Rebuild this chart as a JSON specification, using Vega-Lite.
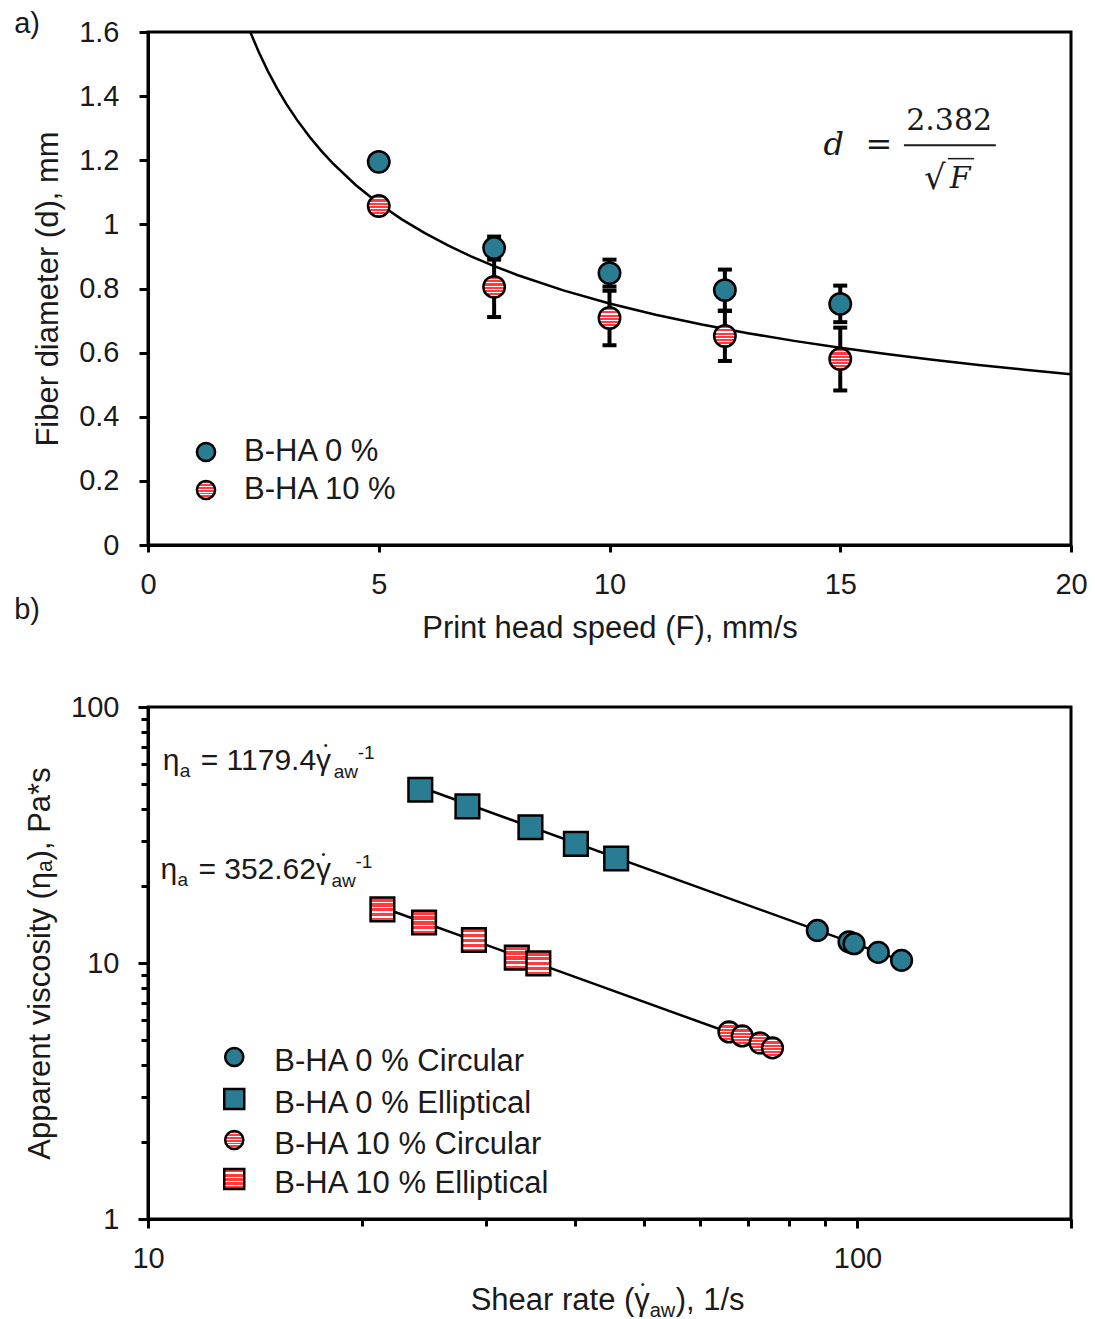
{
  "$schema": "https://vega.github.io/schema/vega-lite/v6.json",
  "background": "white",
  "padding": {"left": 12, "top": 8, "right": 0, "bottom": 0},
  "bounds": "flush",
  "spacing": 162,
  "resolve": {"scale": {"fill": "independent", "shape": "independent"}},
  "datasets": {
    "fit": [
      {"F": 2.216, "d": 1.6}, {"F": 2.4, "d": 1.5376}, {"F": 2.6, "d": 1.4772}, {"F": 2.8, "d": 1.4235},
      {"F": 3, "d": 1.3752}, {"F": 3.25, "d": 1.3213}, {"F": 3.5, "d": 1.2732}, {"F": 3.75, "d": 1.2301},
      {"F": 4, "d": 1.191}, {"F": 4.5, "d": 1.1229}, {"F": 5, "d": 1.0653}, {"F": 5.5, "d": 1.0157},
      {"F": 6, "d": 0.9725}, {"F": 6.5, "d": 0.9343}, {"F": 7, "d": 0.9003}, {"F": 7.5, "d": 0.8698},
      {"F": 8, "d": 0.8422}, {"F": 9, "d": 0.794}, {"F": 10, "d": 0.7532}, {"F": 11, "d": 0.7182},
      {"F": 12, "d": 0.6876}, {"F": 13, "d": 0.6606}, {"F": 14, "d": 0.6366}, {"F": 15, "d": 0.615},
      {"F": 16, "d": 0.5955}, {"F": 17, "d": 0.5777}, {"F": 18, "d": 0.5614}, {"F": 19, "d": 0.5465},
      {"F": 20, "d": 0.5326}
    ],
    "pts": [
      {"series": "B-HA 0 %", "F": 5, "d": 1.195, "lo": 1.18, "hi": 1.21},
      {"series": "B-HA 0 %", "F": 7.5, "d": 0.926, "lo": 0.89, "hi": 0.962},
      {"series": "B-HA 0 %", "F": 10, "d": 0.848, "lo": 0.806, "hi": 0.89},
      {"series": "B-HA 0 %", "F": 12.5, "d": 0.795, "lo": 0.731, "hi": 0.859},
      {"series": "B-HA 0 %", "F": 15, "d": 0.752, "lo": 0.695, "hi": 0.809},
      {"series": "B-HA 10 %", "F": 5, "d": 1.057, "lo": 1.042, "hi": 1.072},
      {"series": "B-HA 10 %", "F": 7.5, "d": 0.805, "lo": 0.711, "hi": 0.899},
      {"series": "B-HA 10 %", "F": 10, "d": 0.708, "lo": 0.623, "hi": 0.793},
      {"series": "B-HA 10 %", "F": 12.5, "d": 0.652, "lo": 0.574, "hi": 0.73},
      {"series": "B-HA 10 %", "F": 15, "d": 0.58, "lo": 0.482, "hi": 0.678}
    ],
    "visc": [
      {"series": "B-HA 0 % Elliptical", "x": 24.2, "y": 47.5},
      {"series": "B-HA 0 % Elliptical", "x": 28.2, "y": 40.9},
      {"series": "B-HA 0 % Elliptical", "x": 34.6, "y": 33.9},
      {"series": "B-HA 0 % Elliptical", "x": 40.1, "y": 29.2},
      {"series": "B-HA 0 % Elliptical", "x": 45.7, "y": 25.6},
      {"series": "B-HA 0 % Circular", "x": 87.8, "y": 13.4},
      {"series": "B-HA 0 % Circular", "x": 97.3, "y": 12.1},
      {"series": "B-HA 0 % Circular", "x": 98.9, "y": 11.9},
      {"series": "B-HA 0 % Circular", "x": 107, "y": 11.0},
      {"series": "B-HA 0 % Circular", "x": 115.4, "y": 10.24},
      {"series": "B-HA 10 % Elliptical", "x": 21.4, "y": 16.2},
      {"series": "B-HA 10 % Elliptical", "x": 24.5, "y": 14.4},
      {"series": "B-HA 10 % Elliptical", "x": 28.8, "y": 12.3},
      {"series": "B-HA 10 % Elliptical", "x": 33.1, "y": 10.5},
      {"series": "B-HA 10 % Elliptical", "x": 35.5, "y": 9.97},
      {"series": "B-HA 10 % Circular", "x": 65.9, "y": 5.38},
      {"series": "B-HA 10 % Circular", "x": 68.8, "y": 5.19},
      {"series": "B-HA 10 % Circular", "x": 72.9, "y": 4.87},
      {"series": "B-HA 10 % Circular", "x": 75.9, "y": 4.66}
    ],
    "fitl": [
      {"grp": "0 %", "x": 24.2, "y": 48.7},
      {"grp": "0 %", "x": 115.4, "y": 10.22},
      {"grp": "10 %", "x": 21.4, "y": 16.48},
      {"grp": "10 %", "x": 75.9, "y": 4.646}
    ],
    "eq": [
      {"x": 10.49, "y": 56.8, "coef": "= 1179.4γ"},
      {"x": 10.41, "y": 21.3, "coef": "= 352.62γ"}
    ]
  },
  "vconcat": [
    {
      "width": 923,
      "height": 513,
      "layer": [
        {
          "data": {"name": "fit"},
          "mark": {"type": "line", "color": "black", "strokeWidth": 2.5, "clip": true},
          "encoding": {
            "x": {"field": "F", "type": "quantitative", "scale": {"domain": [0, 20], "nice": false, "zero": false},
                  "axis": {"title": "Print head speed (F), mm/s", "values": [0, 5, 10, 15, 20], "tickSize": 7, "labelPadding": 18, "titlePadding": 14}},
            "y": {"field": "d", "type": "quantitative", "scale": {"domain": [0, 1.6], "nice": false},
                  "axis": {"title": "Fiber diameter (d), mm", "values": [0, 0.2, 0.4, 0.6, 0.8, 1, 1.2, 1.4, 1.6], "format": "~g", "tickSize": 9, "labelPadding": 20, "titlePadding": 14}}
          }
        },
        {
          "data": {"name": "pts"},
          "mark": {"type": "rule", "color": "black", "strokeWidth": 4},
          "encoding": {
            "x": {"field": "F", "type": "quantitative"},
            "y": {"field": "lo", "type": "quantitative"},
            "y2": {"field": "hi"}
          }
        },
        {
          "data": {"name": "pts"},
          "mark": {"type": "tick", "orient": "horizontal", "color": "black", "size": 14, "thickness": 4, "opacity": 1},
          "encoding": {
            "x": {"field": "F", "type": "quantitative"},
            "y": {"field": "lo", "type": "quantitative"}
          }
        },
        {
          "data": {"name": "pts"},
          "mark": {"type": "tick", "orient": "horizontal", "color": "black", "size": 14, "thickness": 4, "opacity": 1},
          "encoding": {
            "x": {"field": "F", "type": "quantitative"},
            "y": {"field": "hi", "type": "quantitative"}
          }
        },
        {
          "data": {"name": "pts"},
          "mark": {"type": "point", "shape": "circle", "filled": true, "size": 460, "stroke": "black", "strokeWidth": 2.5, "opacity": 1},
          "encoding": {
            "x": {"field": "F", "type": "quantitative"},
            "y": {"field": "d", "type": "quantitative"},
            "fill": {
              "field": "series", "type": "nominal",
              "condition": {"test": "datum.series === 'B-HA 10 %'", "value": {"gradient": "linear", "x1": 0, "y1": 0, "x2": 0, "y2": 1, "stops": [
                {"offset": 0, "color": "#ff3b3b"}, {"offset": 0.14, "color": "#ff3b3b"}, {"offset": 0.14, "color": "#ffffff"}, {"offset": 0.19, "color": "#ffffff"},
                {"offset": 0.19, "color": "#ff3b3b"}, {"offset": 0.29, "color": "#ff3b3b"}, {"offset": 0.29, "color": "#ffffff"}, {"offset": 0.34, "color": "#ffffff"},
                {"offset": 0.34, "color": "#ff3b3b"}, {"offset": 0.44, "color": "#ff3b3b"}, {"offset": 0.44, "color": "#ffffff"}, {"offset": 0.49, "color": "#ffffff"},
                {"offset": 0.49, "color": "#ff3b3b"}, {"offset": 0.59, "color": "#ff3b3b"}, {"offset": 0.59, "color": "#ffffff"}, {"offset": 0.64, "color": "#ffffff"},
                {"offset": 0.64, "color": "#ff3b3b"}, {"offset": 0.74, "color": "#ff3b3b"}, {"offset": 0.74, "color": "#ffffff"}, {"offset": 0.79, "color": "#ffffff"},
                {"offset": 0.79, "color": "#ff3b3b"}, {"offset": 0.88, "color": "#ff3b3b"}, {"offset": 0.88, "color": "#ffffff"}, {"offset": 0.93, "color": "#ffffff"},
                {"offset": 0.93, "color": "#ff3b3b"}, {"offset": 1, "color": "#ff3b3b"}]}},
              "scale": {"domain": ["B-HA 0 %", "B-HA 10 %"], "range": ["#2a7c93", "#ff3b3b"]},
              "legend": null
            }
          }
        },
        {
          "data": {"values": [{}]},
          "mark": {"type": "point", "shape": "circle", "filled": true, "size": 330, "fill": "#2a7c93", "stroke": "black", "strokeWidth": 2.5, "opacity": 1},
          "encoding": {"x": {"datum": 1.257, "type": "quantitative"}, "y": {"datum": 0.29, "type": "quantitative"}}
        },
        {
          "data": {"values": [{}]},
          "mark": {"type": "point", "shape": "circle", "filled": true, "size": 330, "stroke": "black", "strokeWidth": 2.5, "opacity": 1,
                   "fill": {"gradient": "linear", "x1": 0, "y1": 0, "x2": 0, "y2": 1, "stops": [
                    {"offset": 0, "color": "#ff3b3b"}, {"offset": 0.14, "color": "#ff3b3b"}, {"offset": 0.14, "color": "#ffffff"}, {"offset": 0.19, "color": "#ffffff"},
                    {"offset": 0.19, "color": "#ff3b3b"}, {"offset": 0.29, "color": "#ff3b3b"}, {"offset": 0.29, "color": "#ffffff"}, {"offset": 0.34, "color": "#ffffff"},
                    {"offset": 0.34, "color": "#ff3b3b"}, {"offset": 0.44, "color": "#ff3b3b"}, {"offset": 0.44, "color": "#ffffff"}, {"offset": 0.49, "color": "#ffffff"},
                    {"offset": 0.49, "color": "#ff3b3b"}, {"offset": 0.59, "color": "#ff3b3b"}, {"offset": 0.59, "color": "#ffffff"}, {"offset": 0.64, "color": "#ffffff"},
                    {"offset": 0.64, "color": "#ff3b3b"}, {"offset": 0.74, "color": "#ff3b3b"}, {"offset": 0.74, "color": "#ffffff"}, {"offset": 0.79, "color": "#ffffff"},
                    {"offset": 0.79, "color": "#ff3b3b"}, {"offset": 0.88, "color": "#ff3b3b"}, {"offset": 0.88, "color": "#ffffff"}, {"offset": 0.93, "color": "#ffffff"},
                    {"offset": 0.93, "color": "#ff3b3b"}, {"offset": 1, "color": "#ff3b3b"}]}},
          "encoding": {"x": {"datum": 1.257, "type": "quantitative"}, "y": {"datum": 0.1716, "type": "quantitative"}}
        },
        {
          "data": {"values": [{}]},
          "mark": {"type": "text", "text": "B-HA 0 %", "font": "Liberation Sans", "fontSize": 31, "align": "left", "baseline": "middle", "color": "#1a1a1a"},
          "encoding": {"x": {"datum": 2.08, "type": "quantitative"}, "y": {"datum": 0.29, "type": "quantitative"}}
        },
        {
          "data": {"values": [{}]},
          "mark": {"type": "text", "text": "B-HA 10 %", "font": "Liberation Sans", "fontSize": 31, "align": "left", "baseline": "middle", "color": "#1a1a1a"},
          "encoding": {"x": {"datum": 2.08, "type": "quantitative"}, "y": {"datum": 0.1716, "type": "quantitative"}}
        },
        {
          "data": {"values": [{}]},
          "mark": {"type": "text", "text": "a)", "font": "Liberation Sans", "fontSize": 29, "align": "center", "baseline": "middle", "color": "#1a1a1a"},
          "encoding": {"x": {"datum": -2.62, "type": "quantitative"}, "y": {"datum": 1.625, "type": "quantitative"}}
        },
        {
          "data": {"values": [{}]},
          "mark": {"type": "text", "text": "b)", "font": "Liberation Sans", "fontSize": 29, "align": "center", "baseline": "middle", "color": "#1a1a1a"},
          "encoding": {"x": {"datum": -2.62, "type": "quantitative"}, "y": {"datum": -0.203, "type": "quantitative"}}
        },
        {
          "data": {"values": [{}]},
          "mark": {"type": "text", "text": "d", "font": "DejaVu Serif", "fontStyle": "italic", "fontSize": 32, "align": "center", "baseline": "middle", "color": "#1a1a1a"},
          "encoding": {"x": {"datum": 14.86, "type": "quantitative"}, "y": {"datum": 1.248, "type": "quantitative"}}
        },
        {
          "data": {"values": [{}]},
          "mark": {"type": "text", "text": "=", "font": "DejaVu Serif", "fontSize": 32, "align": "center", "baseline": "middle", "color": "#1a1a1a"},
          "encoding": {"x": {"datum": 15.84, "type": "quantitative"}, "y": {"datum": 1.248, "type": "quantitative"}}
        },
        {
          "data": {"values": [{}]},
          "mark": {"type": "text", "text": "2.382", "font": "DejaVu Serif", "fontSize": 30, "align": "center", "baseline": "middle", "color": "#1a1a1a"},
          "encoding": {"x": {"datum": 17.36, "type": "quantitative"}, "y": {"datum": 1.323, "type": "quantitative"}}
        },
        {
          "data": {"values": [{}]},
          "mark": {"type": "rule", "color": "#1a1a1a", "strokeWidth": 2},
          "encoding": {"x": {"datum": 16.38, "type": "quantitative"}, "x2": {"datum": 18.37}, "y": {"datum": 1.247, "type": "quantitative"}}
        },
        {
          "data": {"values": [{}]},
          "mark": {"type": "text", "text": "√", "font": "DejaVu Serif", "fontSize": 34, "align": "center", "baseline": "middle", "color": "#1a1a1a"},
          "encoding": {"x": {"datum": 17.05, "type": "quantitative"}, "y": {"datum": 1.143, "type": "quantitative"}}
        },
        {
          "data": {"values": [{}]},
          "mark": {"type": "rule", "color": "#1a1a1a", "strokeWidth": 1.5},
          "encoding": {"x": {"datum": 17.33, "type": "quantitative"}, "x2": {"datum": 17.9}, "y": {"datum": 1.205, "type": "quantitative"}}
        },
        {
          "data": {"values": [{}]},
          "mark": {"type": "text", "text": "F", "font": "DejaVu Serif", "fontStyle": "italic", "fontSize": 30, "align": "center", "baseline": "middle", "color": "#1a1a1a"},
          "encoding": {"x": {"datum": 17.6, "type": "quantitative"}, "y": {"datum": 1.143, "type": "quantitative"}}
        }
      ]
    },
    {
      "width": 923,
      "height": 512,
      "layer": [
        {
          "data": {"name": "fitl"},
          "mark": {"type": "line", "color": "black", "strokeWidth": 2.5},
          "encoding": {
            "x": {"field": "x", "type": "quantitative", "scale": {"type": "log", "domain": [10, 200], "nice": false},
                  "axis": {"title": null, "values": [10, 20, 30, 40, 50, 60, 70, 80, 90, 100, 200],
                           "labelExpr": "datum.value == 10 ? '10' : (datum.value == 100 ? '100' : '')",
                           "tickSize": {"condition": {"test": "datum.value == 10 || datum.value == 100 || datum.value == 200", "value": 9}, "value": 7},
                           "labelPadding": 16}},
            "y": {"field": "y", "type": "quantitative", "scale": {"type": "log", "domain": [1, 100], "nice": false},
                  "axis": {"title": "Apparent viscosity (ηₐ), Pa*s", "values": [1, 2, 3, 4, 5, 6, 7, 8, 9, 10, 20, 30, 40, 50, 60, 70, 80, 90, 100],
                           "labelExpr": "datum.value == 1 ? '1' : (datum.value == 10 ? '10' : (datum.value == 100 ? '100' : ''))",
                           "tickSize": {"condition": {"test": "datum.value == 1 || datum.value == 10 || datum.value == 100", "value": 10}, "value": 7},
                           "labelPadding": 19, "titlePadding": 14}},
            "detail": {"field": "grp"}
          }
        },
        {
          "data": {"name": "visc"},
          "mark": {"type": "point", "filled": true, "stroke": "black", "strokeWidth": 2.5, "opacity": 1},
          "encoding": {
            "x": {"field": "x", "type": "quantitative"},
            "y": {"field": "y", "type": "quantitative"},
            "size": {"condition": {"test": "indexof(datum.series, 'Elliptical') >= 0", "value": 560}, "value": 430},
            "shape": {
              "field": "series", "type": "nominal",
              "scale": {"domain": ["B-HA 0 % Circular", "B-HA 0 % Elliptical", "B-HA 10 % Circular", "B-HA 10 % Elliptical"], "range": ["circle", "square", "circle", "square"]},
              "legend": null
            },
            "fill": {
              "field": "series", "type": "nominal",
              "condition": [
                {"test": "datum.series === 'B-HA 10 % Circular'", "value": {"gradient": "linear", "x1": 0, "y1": 0, "x2": 0, "y2": 1, "stops": [
                  {"offset": 0, "color": "#ff3b3b"}, {"offset": 0.14, "color": "#ff3b3b"}, {"offset": 0.14, "color": "#ffffff"}, {"offset": 0.19, "color": "#ffffff"},
                  {"offset": 0.19, "color": "#ff3b3b"}, {"offset": 0.29, "color": "#ff3b3b"}, {"offset": 0.29, "color": "#ffffff"}, {"offset": 0.34, "color": "#ffffff"},
                  {"offset": 0.34, "color": "#ff3b3b"}, {"offset": 0.44, "color": "#ff3b3b"}, {"offset": 0.44, "color": "#ffffff"}, {"offset": 0.49, "color": "#ffffff"},
                  {"offset": 0.49, "color": "#ff3b3b"}, {"offset": 0.59, "color": "#ff3b3b"}, {"offset": 0.59, "color": "#ffffff"}, {"offset": 0.64, "color": "#ffffff"},
                  {"offset": 0.64, "color": "#ff3b3b"}, {"offset": 0.74, "color": "#ff3b3b"}, {"offset": 0.74, "color": "#ffffff"}, {"offset": 0.79, "color": "#ffffff"},
                  {"offset": 0.79, "color": "#ff3b3b"}, {"offset": 0.88, "color": "#ff3b3b"}, {"offset": 0.88, "color": "#ffffff"}, {"offset": 0.93, "color": "#ffffff"},
                  {"offset": 0.93, "color": "#ff3b3b"}, {"offset": 1, "color": "#ff3b3b"}]}},
                {"test": "datum.series === 'B-HA 10 % Elliptical'", "value": {"gradient": "linear", "x1": 0, "y1": 0, "x2": 0, "y2": 1, "stops": [
                  {"offset": 0, "color": "#ff3b3b"}, {"offset": 0.17, "color": "#ff3b3b"}, {"offset": 0.17, "color": "#ffffff"}, {"offset": 0.24, "color": "#ffffff"},
                  {"offset": 0.24, "color": "#ff3b3b"}, {"offset": 0.38, "color": "#ff3b3b"}, {"offset": 0.38, "color": "#ffffff"}, {"offset": 0.45, "color": "#ffffff"},
                  {"offset": 0.45, "color": "#ff3b3b"}, {"offset": 0.59, "color": "#ff3b3b"}, {"offset": 0.59, "color": "#ffffff"}, {"offset": 0.66, "color": "#ffffff"},
                  {"offset": 0.66, "color": "#ff3b3b"}, {"offset": 0.79, "color": "#ff3b3b"}, {"offset": 0.79, "color": "#ffffff"}, {"offset": 0.86, "color": "#ffffff"},
                  {"offset": 0.86, "color": "#ff3b3b"}, {"offset": 1, "color": "#ff3b3b"}]}}
              ],
              "scale": {"domain": ["B-HA 0 % Circular", "B-HA 0 % Elliptical", "B-HA 10 % Circular", "B-HA 10 % Elliptical"], "range": ["#2a7c93", "#2a7c93", "#ff3b3b", "#ff3b3b"]},
              "legend": null
            }
          }
        },
        {
          "data": {"values": [{}]},
          "mark": {"type": "point", "shape": "circle", "filled": true, "size": 330, "fill": "#2a7c93", "stroke": "black", "strokeWidth": 2.5, "opacity": 1},
          "encoding": {"x": {"datum": 13.23, "type": "quantitative"}, "y": {"datum": 4.293, "type": "quantitative"}}
        },
        {
          "data": {"values": [{}]},
          "mark": {"type": "point", "shape": "square", "filled": true, "size": 400, "fill": "#2a7c93", "stroke": "black", "strokeWidth": 2.5, "opacity": 1},
          "encoding": {"x": {"datum": 13.23, "type": "quantitative"}, "y": {"datum": 2.943, "type": "quantitative"}}
        },
        {
          "data": {"values": [{}]},
          "mark": {"type": "point", "shape": "circle", "filled": true, "size": 330, "stroke": "black", "strokeWidth": 2.5, "opacity": 1,
                   "fill": {"gradient": "linear", "x1": 0, "y1": 0, "x2": 0, "y2": 1, "stops": [
                    {"offset": 0, "color": "#ff3b3b"}, {"offset": 0.14, "color": "#ff3b3b"}, {"offset": 0.14, "color": "#ffffff"}, {"offset": 0.19, "color": "#ffffff"},
                    {"offset": 0.19, "color": "#ff3b3b"}, {"offset": 0.29, "color": "#ff3b3b"}, {"offset": 0.29, "color": "#ffffff"}, {"offset": 0.34, "color": "#ffffff"},
                    {"offset": 0.34, "color": "#ff3b3b"}, {"offset": 0.44, "color": "#ff3b3b"}, {"offset": 0.44, "color": "#ffffff"}, {"offset": 0.49, "color": "#ffffff"},
                    {"offset": 0.49, "color": "#ff3b3b"}, {"offset": 0.59, "color": "#ff3b3b"}, {"offset": 0.59, "color": "#ffffff"}, {"offset": 0.64, "color": "#ffffff"},
                    {"offset": 0.64, "color": "#ff3b3b"}, {"offset": 0.74, "color": "#ff3b3b"}, {"offset": 0.74, "color": "#ffffff"}, {"offset": 0.79, "color": "#ffffff"},
                    {"offset": 0.79, "color": "#ff3b3b"}, {"offset": 0.88, "color": "#ff3b3b"}, {"offset": 0.88, "color": "#ffffff"}, {"offset": 0.93, "color": "#ffffff"},
                    {"offset": 0.93, "color": "#ff3b3b"}, {"offset": 1, "color": "#ff3b3b"}]}},
          "encoding": {"x": {"datum": 13.23, "type": "quantitative"}, "y": {"datum": 2.035, "type": "quantitative"}}
        },
        {
          "data": {"values": [{}]},
          "mark": {"type": "point", "shape": "square", "filled": true, "size": 400, "stroke": "black", "strokeWidth": 2.5, "opacity": 1,
                   "fill": {"gradient": "linear", "x1": 0, "y1": 0, "x2": 0, "y2": 1, "stops": [
                    {"offset": 0, "color": "#ff3b3b"}, {"offset": 0.17, "color": "#ff3b3b"}, {"offset": 0.17, "color": "#ffffff"}, {"offset": 0.24, "color": "#ffffff"},
                    {"offset": 0.24, "color": "#ff3b3b"}, {"offset": 0.38, "color": "#ff3b3b"}, {"offset": 0.38, "color": "#ffffff"}, {"offset": 0.45, "color": "#ffffff"},
                    {"offset": 0.45, "color": "#ff3b3b"}, {"offset": 0.59, "color": "#ff3b3b"}, {"offset": 0.59, "color": "#ffffff"}, {"offset": 0.66, "color": "#ffffff"},
                    {"offset": 0.66, "color": "#ff3b3b"}, {"offset": 0.79, "color": "#ff3b3b"}, {"offset": 0.79, "color": "#ffffff"}, {"offset": 0.86, "color": "#ffffff"},
                    {"offset": 0.86, "color": "#ff3b3b"}, {"offset": 1, "color": "#ff3b3b"}]}},
          "encoding": {"x": {"datum": 13.23, "type": "quantitative"}, "y": {"datum": 1.433, "type": "quantitative"}}
        },
        {
          "data": {"values": [{}]},
          "mark": {"type": "text", "text": "B-HA 0 % Circular", "font": "Liberation Sans", "fontSize": 31, "align": "left", "baseline": "middle", "color": "#1a1a1a"},
          "encoding": {"x": {"datum": 15.07, "type": "quantitative"}, "y": {"datum": 4.105, "type": "quantitative"}}
        },
        {
          "data": {"values": [{}]},
          "mark": {"type": "text", "text": "B-HA 0 % Elliptical", "font": "Liberation Sans", "fontSize": 31, "align": "left", "baseline": "middle", "color": "#1a1a1a"},
          "encoding": {"x": {"datum": 15.07, "type": "quantitative"}, "y": {"datum": 2.813, "type": "quantitative"}}
        },
        {
          "data": {"values": [{}]},
          "mark": {"type": "text", "text": "B-HA 10 % Circular", "font": "Liberation Sans", "fontSize": 31, "align": "left", "baseline": "middle", "color": "#1a1a1a"},
          "encoding": {"x": {"datum": 15.07, "type": "quantitative"}, "y": {"datum": 1.945, "type": "quantitative"}}
        },
        {
          "data": {"values": [{}]},
          "mark": {"type": "text", "text": "B-HA 10 % Elliptical", "font": "Liberation Sans", "fontSize": 31, "align": "left", "baseline": "middle", "color": "#1a1a1a"},
          "encoding": {"x": {"datum": 15.07, "type": "quantitative"}, "y": {"datum": 1.37, "type": "quantitative"}}
        },
        {
          "data": {"name": "eq"},
          "mark": {"type": "text", "text": "η", "font": "Liberation Sans", "fontSize": 30, "align": "left", "baseline": "alphabetic", "color": "#1a1a1a"},
          "encoding": {"x": {"field": "x", "type": "quantitative"}, "y": {"field": "y", "type": "quantitative"}}
        },
        {
          "data": {"name": "eq"},
          "mark": {"type": "text", "text": "a", "font": "Liberation Sans", "fontSize": 19, "align": "left", "baseline": "alphabetic", "dx": 17, "dy": 7, "color": "#1a1a1a"},
          "encoding": {"x": {"field": "x", "type": "quantitative"}, "y": {"field": "y", "type": "quantitative"}}
        },
        {
          "data": {"name": "eq"},
          "mark": {"type": "text", "font": "Liberation Sans", "fontSize": 30, "align": "left", "baseline": "alphabetic", "dx": 38, "color": "#1a1a1a"},
          "encoding": {"x": {"field": "x", "type": "quantitative"}, "y": {"field": "y", "type": "quantitative"}, "text": {"field": "coef"}}
        },
        {
          "data": {"name": "eq"},
          "mark": {"type": "text", "text": "aw", "font": "Liberation Sans", "fontSize": 19, "align": "left", "baseline": "alphabetic", "dx": 171, "dy": 8, "color": "#1a1a1a"},
          "encoding": {"x": {"field": "x", "type": "quantitative"}, "y": {"field": "y", "type": "quantitative"}}
        },
        {
          "data": {"name": "eq"},
          "mark": {"type": "text", "text": "-1", "font": "Liberation Sans", "fontSize": 19, "align": "left", "baseline": "alphabetic", "dx": 195, "dy": -11, "color": "#1a1a1a"},
          "encoding": {"x": {"field": "x", "type": "quantitative"}, "y": {"field": "y", "type": "quantitative"}}
        },
        {
          "data": {"name": "eq"},
          "mark": {"type": "text", "text": "•", "font": "Liberation Sans", "fontSize": 11, "align": "center", "baseline": "middle", "dx": 163, "dy": -24, "color": "#1a1a1a"},
          "encoding": {"x": {"field": "x", "type": "quantitative"}, "y": {"field": "y", "type": "quantitative"}}
        },
        {
          "data": {"values": [{}]},
          "mark": {"type": "text", "text": "Shear rate (γ", "font": "Liberation Sans", "fontSize": 31, "align": "left", "baseline": "alphabetic", "color": "#1a1a1a"},
          "encoding": {"x": {"datum": 28.5, "type": "quantitative"}, "y": {"datum": 0.441, "type": "quantitative"}}
        },
        {
          "data": {"values": [{}]},
          "mark": {"type": "text", "text": "aw", "font": "Liberation Sans", "fontSize": 20, "align": "left", "baseline": "alphabetic", "dx": 179, "dy": 7, "color": "#1a1a1a"},
          "encoding": {"x": {"datum": 28.5, "type": "quantitative"}, "y": {"datum": 0.441, "type": "quantitative"}}
        },
        {
          "data": {"values": [{}]},
          "mark": {"type": "text", "text": "), 1/s", "font": "Liberation Sans", "fontSize": 31, "align": "left", "baseline": "alphabetic", "dx": 205, "color": "#1a1a1a"},
          "encoding": {"x": {"datum": 28.5, "type": "quantitative"}, "y": {"datum": 0.441, "type": "quantitative"}}
        },
        {
          "data": {"values": [{}]},
          "mark": {"type": "text", "text": "•", "font": "Liberation Sans", "fontSize": 11, "align": "center", "baseline": "middle", "dx": 172, "dy": -25, "color": "#1a1a1a"},
          "encoding": {"x": {"datum": 28.5, "type": "quantitative"}, "y": {"datum": 0.441, "type": "quantitative"}}
        }
      ]
    }
  ],
  "config": {
    "view": {"stroke": "black", "strokeWidth": 3},
    "font": "Liberation Sans",
    "axis": {
      "domainColor": "black", "domainWidth": 3, "tickColor": "black", "tickWidth": 3, "grid": false,
      "labelFont": "Liberation Sans", "labelFontSize": 29, "labelColor": "#1a1a1a",
      "titleFont": "Liberation Sans", "titleFontSize": 31, "titleFontWeight": "normal", "titleColor": "#1a1a1a",
      "labelFlush": false, "labelOverlap": false
    }
  }
}
